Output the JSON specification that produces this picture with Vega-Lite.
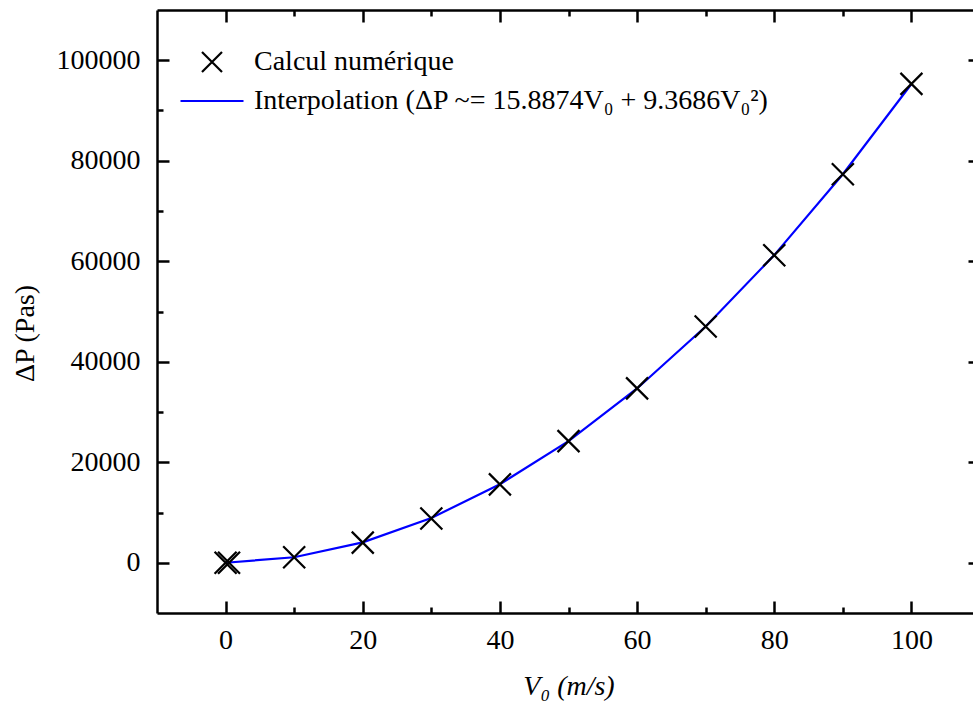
{
  "$schema": "https://vega.github.io/schema/vega-lite/v6.json",
  "width": 823,
  "height": 603,
  "autosize": {"type": "none"},
  "padding": {"left": 157, "top": 10, "right": 0, "bottom": 98},
  "background": "white",
  "config": {
    "view": {"stroke": null},
    "font": "Liberation Serif",
    "axis": {
      "domainColor": "black", "domainWidth": 2.5, "tickColor": "black", "tickWidth": 2.5,
      "labelFont": "Liberation Serif", "labelFontSize": 28, "labelColor": "black",
      "titleFont": "Liberation Serif", "titleFontSize": 28, "titleColor": "black", "titleFontWeight": "normal",
      "grid": false
    }
  },
  "datasets": {
    "pts": [
      {"v": 0, "dp": 0, "s": "Calcul numérique"},
      {"v": 0.5, "dp": 10, "s": "Calcul numérique"},
      {"v": 10, "dp": 1100, "s": "Calcul numérique"},
      {"v": 20, "dp": 4000, "s": "Calcul numérique"},
      {"v": 30, "dp": 8800, "s": "Calcul numérique"},
      {"v": 40, "dp": 15600, "s": "Calcul numérique"},
      {"v": 50, "dp": 24200, "s": "Calcul numérique"},
      {"v": 60, "dp": 34700, "s": "Calcul numérique"},
      {"v": 70, "dp": 47000, "s": "Calcul numérique"},
      {"v": 80, "dp": 61200, "s": "Calcul numérique"},
      {"v": 90, "dp": 77300, "s": "Calcul numérique"},
      {"v": 100, "dp": 95300, "s": "Calcul numérique"}
    ],
    "fit": [
      {"v": 0, "dp": 0, "s": "Interpolation (ΔP ~= 15.8874V₀ + 9.3686V₀²)"},
      {"v": 10, "dp": 1095, "s": "Interpolation (ΔP ~= 15.8874V₀ + 9.3686V₀²)"},
      {"v": 20, "dp": 4065, "s": "Interpolation (ΔP ~= 15.8874V₀ + 9.3686V₀²)"},
      {"v": 30, "dp": 8908, "s": "Interpolation (ΔP ~= 15.8874V₀ + 9.3686V₀²)"},
      {"v": 40, "dp": 15625, "s": "Interpolation (ΔP ~= 15.8874V₀ + 9.3686V₀²)"},
      {"v": 50, "dp": 24216, "s": "Interpolation (ΔP ~= 15.8874V₀ + 9.3686V₀²)"},
      {"v": 60, "dp": 34681, "s": "Interpolation (ΔP ~= 15.8874V₀ + 9.3686V₀²)"},
      {"v": 70, "dp": 47018, "s": "Interpolation (ΔP ~= 15.8874V₀ + 9.3686V₀²)"},
      {"v": 80, "dp": 61226, "s": "Interpolation (ΔP ~= 15.8874V₀ + 9.3686V₀²)"},
      {"v": 90, "dp": 77317, "s": "Interpolation (ΔP ~= 15.8874V₀ + 9.3686V₀²)"},
      {"v": 100, "dp": 95275, "s": "Interpolation (ΔP ~= 15.8874V₀ + 9.3686V₀²)"}
    ]
  },
  "layer": [
    {
      "data": {"name": "fit"},
      "mark": {"type": "line", "strokeWidth": 2.2},
      "encoding": {
        "x": {"field": "v", "type": "quantitative", "scale": {"domain": [-10, 110], "nice": false, "zero": false},
          "axis": {"orient": "bottom", "title": "V₀ (m/s)", "titleFontStyle": "italic", "titlePadding": 18,
            "values": [0, 20, 40, 60, 80, 100], "tickSize": -12, "labelPadding": 25, "format": "d"}},
        "y": {"field": "dp", "type": "quantitative", "scale": {"domain": [-10000, 110000], "nice": false, "zero": false},
          "axis": {"orient": "left", "title": "ΔP (Pas)", "titlePadding": 17, "titleY": 323,
            "values": [0, 20000, 40000, 60000, 80000, 100000], "tickSize": -12, "labelPadding": 29, "format": "d"}},
        "color": {"field": "s", "type": "nominal",
          "scale": {"domain": ["Calcul numérique", "Interpolation (ΔP ~= 15.8874V₀ + 9.3686V₀²)"], "range": ["black", "#0000ff"]},
          "legend": {"orient": "none", "legendX": 41, "legendY": 38, "title": null,
            "symbolSize": 400, "symbolStrokeWidth": 2.2, "symbolFillColor": "transparent",
            "labelFont": "Liberation Serif", "labelFontSize": 28, "labelColor": "black", "labelOffset": 28, "rowPadding": 10, "labelLimit": 800,
            "encode": {"symbols": {"update": {"shape": {"signal": "datum.value === 'Calcul numérique' ? 'M-1,-1L1,1M-1,1L1,-1' : 'M-3.15,0L3.15,0'"}}}}}}
      }
    },
    {
      "data": {"name": "pts"},
      "mark": {"type": "point", "shape": "M-1,-1L1,1M-1,1L1,-1", "size": 484, "strokeWidth": 2.2, "filled": false, "opacity": 1},
      "encoding": {
        "x": {"field": "v", "type": "quantitative",
          "axis": {"orient": "bottom", "title": null, "labels": false, "domain": false,
            "values": [10, 30, 50, 70, 90], "tickSize": -6}},
        "y": {"field": "dp", "type": "quantitative",
          "axis": {"orient": "left", "title": null, "labels": false, "domain": false,
            "values": [10000, 30000, 50000, 70000, 90000], "tickSize": -6}},
        "color": {"field": "s", "type": "nominal"}
      }
    },
    {
      "data": {"name": "fit"},
      "mark": {"type": "line", "opacity": 0},
      "encoding": {
        "x": {"field": "v", "type": "quantitative",
          "axis": {"orient": "top", "title": null, "labels": false,
            "values": [0, 20, 40, 60, 80, 100], "tickSize": -12}},
        "y": {"field": "dp", "type": "quantitative",
          "axis": {"orient": "right", "title": null, "labels": false,
            "values": [0, 20000, 40000, 60000, 80000, 100000], "tickSize": -12}}
      }
    },
    {
      "data": {"name": "fit"},
      "mark": {"type": "line", "opacity": 0},
      "encoding": {
        "x": {"field": "v", "type": "quantitative",
          "axis": {"orient": "top", "title": null, "labels": false, "domain": false,
            "values": [10, 30, 50, 70, 90], "tickSize": -6}},
        "y": {"field": "dp", "type": "quantitative",
          "axis": {"orient": "right", "title": null, "labels": false, "domain": false,
            "values": [10000, 30000, 50000, 70000, 90000], "tickSize": -6}}
      }
    }
  ],
  "resolve": {"axis": {"x": "independent", "y": "independent"}}
}
